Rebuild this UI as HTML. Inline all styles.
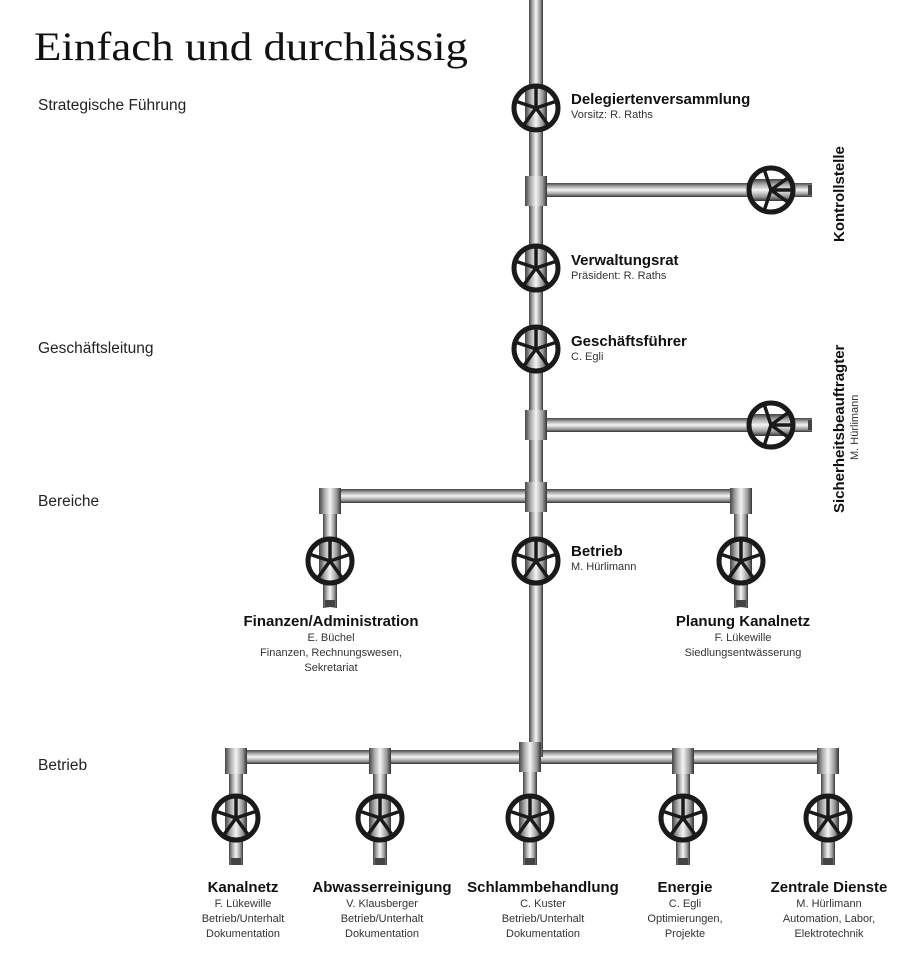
<!DOCTYPE html>
<html><head><meta charset="utf-8"><style>
html,body{margin:0;padding:0;background:#fff}
svg{display:block}
.b{font-family:"Liberation Sans",sans-serif;font-weight:bold;font-size:15px;fill:#111}
.s{font-family:"Liberation Sans",sans-serif;font-size:11px;fill:#333}
.l{font-family:"Liberation Sans",sans-serif;font-size:15.5px;fill:#222}
</style></head><body>
<svg width="920" height="967" viewBox="0 0 920 967" xmlns="http://www.w3.org/2000/svg">
<defs>
<linearGradient id="gv" x1="0" x2="1" y1="0" y2="0">
<stop offset="0" stop-color="#444"/><stop offset="0.25" stop-color="#aaa"/><stop offset="0.5" stop-color="#f4f4f4"/><stop offset="0.8" stop-color="#999"/><stop offset="1" stop-color="#333"/></linearGradient>
<linearGradient id="gh" x1="0" x2="0" y1="0" y2="1">
<stop offset="0" stop-color="#444"/><stop offset="0.25" stop-color="#aaa"/><stop offset="0.5" stop-color="#f4f4f4"/><stop offset="0.8" stop-color="#999"/><stop offset="1" stop-color="#333"/></linearGradient>
<g id="valve">
<rect x="-11" y="-20" width="22" height="40" fill="url(#gv)"/>
<circle r="22" fill="none" stroke="#1a1a1a" stroke-width="5"/>
<g stroke="#1a1a1a" stroke-width="3.5" stroke-linecap="round">
<line x1="0" y1="0" x2="-21" y2="-7"/><line x1="0" y1="0" x2="21" y2="-7"/>
<line x1="0" y1="0" x2="0" y2="-22"/>
<line x1="0" y1="0" x2="-13" y2="18"/><line x1="0" y1="0" x2="13" y2="18"/></g>
</g>
<g id="valveh">
<rect x="-20" y="-11" width="40" height="22" fill="url(#gh)"/>
<circle r="22" fill="none" stroke="#1a1a1a" stroke-width="5"/>
<g stroke="#1a1a1a" stroke-width="3.5" stroke-linecap="round">
<line x1="0" y1="0" x2="-7" y2="-21"/><line x1="0" y1="0" x2="-7" y2="21"/>
<line x1="0" y1="0" x2="22" y2="0"/>
<line x1="0" y1="0" x2="18" y2="-13"/><line x1="0" y1="0" x2="18" y2="13"/></g>
</g>
</defs>

<text x="34" y="60" font-family="Liberation Serif,serif" font-size="40" fill="#111" textLength="434" lengthAdjust="spacingAndGlyphs">Einfach und durchlässig</text>
<text class="l" x="38" y="110">Strategische Führung</text>
<text class="l" x="38" y="353">Geschäftsleitung</text>
<text class="l" x="38" y="506">Bereiche</text>
<text class="l" x="38" y="770">Betrieb</text>

<rect x="536" y="183" width="276" height="14" fill="url(#gh)"/>
<rect x="536" y="418" width="276" height="14" fill="url(#gh)"/>
<rect x="322" y="489" width="422" height="14" fill="url(#gh)"/>
<rect x="232" y="750" width="604" height="14" fill="url(#gh)"/>
<rect x="529" y="0" width="14" height="757" fill="url(#gv)"/>
<rect x="323" y="496" width="14" height="112" fill="url(#gv)"/>
<rect x="734" y="496" width="14" height="112" fill="url(#gv)"/>
<g fill="url(#gv)">
<rect x="229" y="757" width="14" height="108"/>
<rect x="373" y="757" width="14" height="108"/>
<rect x="523" y="757" width="14" height="108"/>
<rect x="676" y="757" width="14" height="108"/>
<rect x="821" y="757" width="14" height="108"/>
</g>
<g fill="url(#gv)">
<rect x="525" y="176" width="22" height="30"/>
<rect x="525" y="410" width="22" height="30"/>
<rect x="525" y="482" width="22" height="30"/>
<rect x="319" y="488" width="22" height="26"/>
<rect x="730" y="488" width="22" height="26"/>
<rect x="519" y="742" width="22" height="30"/>
<rect x="225" y="748" width="22" height="26"/>
<rect x="369" y="748" width="22" height="26"/>
<rect x="672" y="748" width="22" height="26"/>
<rect x="817" y="748" width="22" height="26"/>
</g>
<g fill="#444">
<rect x="231" y="858" width="10" height="7"/><rect x="375" y="858" width="10" height="7"/>
<rect x="525" y="858" width="10" height="7"/><rect x="678" y="858" width="10" height="7"/>
<rect x="823" y="858" width="10" height="7"/><rect x="325" y="600" width="10" height="7"/>
<rect x="736" y="600" width="10" height="7"/><rect x="808" y="420" width="4" height="10"/><rect x="808" y="185" width="4" height="10"/>
</g>

<use href="#valve" x="536" y="108"/>
<use href="#valve" x="536" y="268"/>
<use href="#valve" x="536" y="349"/>
<use href="#valve" x="536" y="561"/>
<use href="#valve" x="330" y="561"/>
<use href="#valve" x="741" y="561"/>
<use href="#valveh" x="771" y="190"/>
<use href="#valveh" x="771" y="425"/>
<use href="#valve" x="236" y="818"/>
<use href="#valve" x="380" y="818"/>
<use href="#valve" x="530" y="818"/>
<use href="#valve" x="683" y="818"/>
<use href="#valve" x="828" y="818"/>

<text class="b" x="571" y="104">Delegiertenversammlung</text>
<text class="s" x="571" y="118">Vorsitz: R. Raths</text>
<text class="b" x="571" y="265">Verwaltungsrat</text>
<text class="s" x="571" y="279">Präsident: R. Raths</text>
<text class="b" x="571" y="346">Geschäftsführer</text>
<text class="s" x="571" y="360">C. Egli</text>
<text class="b" x="571" y="556">Betrieb</text>
<text class="s" x="571" y="570">M. Hürlimann</text>

<text class="b" transform="translate(844,242) rotate(-90)">Kontrollstelle</text>
<text class="b" transform="translate(844,513) rotate(-90)">Sicherheitsbeauftragter</text>
<text class="s" transform="translate(858,460) rotate(-90)">M. Hürlimann</text>

<g text-anchor="middle">
<text class="b" x="331" y="626">Finanzen/Administration</text>
<text class="s" x="331" y="641">E. Büchel</text>
<text class="s" x="331" y="656">Finanzen, Rechnungswesen,</text>
<text class="s" x="331" y="671">Sekretariat</text>
<text class="b" x="743" y="626">Planung Kanalnetz</text>
<text class="s" x="743" y="641">F. Lükewille</text>
<text class="s" x="743" y="656">Siedlungsentwässerung</text>

<text class="b" x="243" y="892">Kanalnetz</text>
<text class="s" x="243" y="907">F. Lükewille</text>
<text class="s" x="243" y="922">Betrieb/Unterhalt</text>
<text class="s" x="243" y="937">Dokumentation</text>
<text class="b" x="382" y="892">Abwasserreinigung</text>
<text class="s" x="382" y="907">V. Klausberger</text>
<text class="s" x="382" y="922">Betrieb/Unterhalt</text>
<text class="s" x="382" y="937">Dokumentation</text>
<text class="b" x="543" y="892">Schlammbehandlung</text>
<text class="s" x="543" y="907">C. Kuster</text>
<text class="s" x="543" y="922">Betrieb/Unterhalt</text>
<text class="s" x="543" y="937">Dokumentation</text>
<text class="b" x="685" y="892">Energie</text>
<text class="s" x="685" y="907">C. Egli</text>
<text class="s" x="685" y="922">Optimierungen,</text>
<text class="s" x="685" y="937">Projekte</text>
<text class="b" x="829" y="892">Zentrale Dienste</text>
<text class="s" x="829" y="907">M. Hürlimann</text>
<text class="s" x="829" y="922">Automation, Labor,</text>
<text class="s" x="829" y="937">Elektrotechnik</text>
</g>
</svg>
</body></html>
